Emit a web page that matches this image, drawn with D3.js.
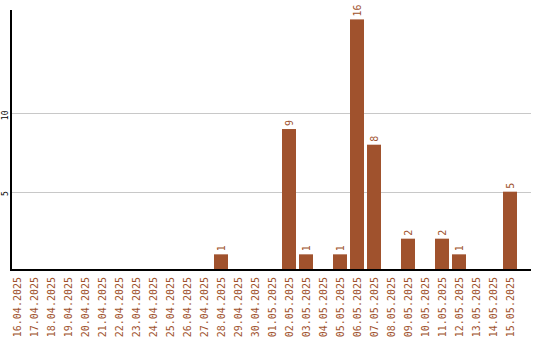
<!DOCTYPE html>
<html>
<head>
<meta charset="utf-8">
<script src="https://cdn.jsdelivr.net/npm/d3@7"></script>
<style>
  html, body { margin: 0; padding: 0; background: #fff; }
  svg { display: block; }
  text { font-family: "DejaVu Sans Mono", monospace; }
</style>
</head>
<body>
<div id="chart"></div>
<script>
const dates = [
  "16.04.2025", "17.04.2025", "18.04.2025", "19.04.2025", "20.04.2025",
  "21.04.2025", "22.04.2025", "23.04.2025", "24.04.2025", "25.04.2025",
  "26.04.2025", "27.04.2025", "28.04.2025", "29.04.2025", "30.04.2025",
  "01.05.2025", "02.05.2025", "03.05.2025", "04.05.2025", "05.05.2025",
  "06.05.2025", "07.05.2025", "08.05.2025", "09.05.2025", "10.05.2025",
  "11.05.2025", "12.05.2025", "13.05.2025", "14.05.2025", "15.05.2025"
];
const counts = [
  0, 0, 0, 0, 0,
  0, 0, 0, 0, 0,
  0, 0, 1, 0, 0,
  0, 9, 1, 0, 1,
  16, 8, 0, 2, 0,
  2, 1, 0, 0, 5
];
const yTicks = [5, 10];

const width = 540;
const height = 340;
const plotLeft = 10, plotRight = 531, plotTop = 10, plotBottom = 270;
const barColor = "#a0522d";

const data = dates.map((d, i) => ({ date: d, value: counts[i] }));

const svg = d3.select("#chart")
  .append("svg")
  .attr("width", width)
  .attr("height", height);

const x = d3.scaleBand()
  .domain(dates)
  .range([plotLeft, 517])
  .paddingInner(3 / 17)
  .paddingOuter(0);

const y = d3.scaleLinear()
  .domain([0, 16.6])
  .range([plotBottom, plotTop]);

// gridlines
svg.append("g")
  .selectAll("line")
  .data(yTicks)
  .join("line")
  .attr("x1", plotLeft + 1)
  .attr("x2", plotRight)
  .attr("y1", (d) => Math.round(y(d)) + 0.5)
  .attr("y2", (d) => Math.round(y(d)) + 0.5)
  .attr("stroke", "#c8c8c8")
  .attr("stroke-width", 1);

// y tick labels, rotated
svg.append("g")
  .selectAll("text")
  .data(yTicks)
  .join("text")
  .attr("transform", (d) => `translate(8,${y(d) + 2}) rotate(-90)`)
  .attr("text-anchor", "middle")
  .attr("font-size", 8)
  .attr("fill", "#000")
  .text((d) => d);

// bars
svg.append("g")
  .selectAll("rect")
  .data(data.filter((d) => d.value > 0))
  .join("rect")
  .attr("x", (d) => x(d.date))
  .attr("y", (d) => y(d.value))
  .attr("width", x.bandwidth())
  .attr("height", (d) => y(0) - y(d.value))
  .attr("fill", barColor);

// value labels
svg.append("g")
  .selectAll("text")
  .data(data.filter((d) => d.value > 0))
  .join("text")
  .attr("transform", (d) => `translate(${x(d.date) + x.bandwidth() / 2 + 3.5},${y(d.value) - 3}) rotate(-90)`)
  .attr("text-anchor", "start")
  .attr("font-size", 10)
  .attr("fill", barColor)
  .text((d) => d.value);

// x labels
svg.append("g")
  .selectAll("text")
  .data(dates)
  .join("text")
  .attr("transform", (d) => `translate(${x(d) + x.bandwidth() / 2 + 4},${plotBottom + 7}) rotate(-90)`)
  .attr("text-anchor", "end")
  .attr("font-size", 10)
  .attr("fill", barColor)
  .text((d) => d);

// axes lines
svg.append("line")
  .attr("x1", 11).attr("x2", 11)
  .attr("y1", plotTop).attr("y2", plotBottom + 1)
  .attr("stroke", "#000").attr("stroke-width", 2);
svg.append("line")
  .attr("x1", plotLeft).attr("x2", plotRight)
  .attr("y1", plotBottom).attr("y2", plotBottom)
  .attr("stroke", "#000").attr("stroke-width", 2);
</script>
</body>
</html>
